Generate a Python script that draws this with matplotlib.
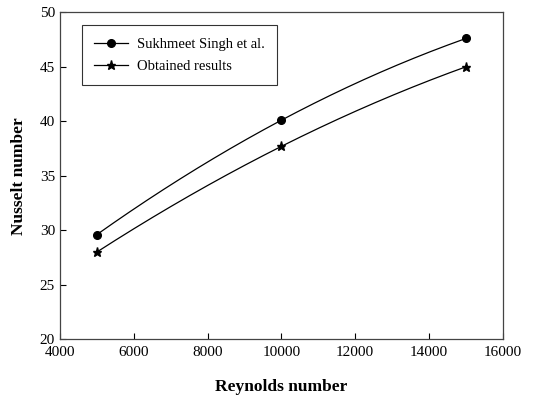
import numpy as np
import matplotlib
matplotlib.use('Agg')
import matplotlib.pyplot as plt

reynolds = [5000, 10000, 15000]
nu_singh = [29.6, 40.1, 47.6]
nu_obtained = [28.0, 37.7, 45.0]

plt.rcParams['font.family'] = ['Liberation Serif', 'DejaVu Serif']

fig = plt.figure(figsize=(5.49, 3.99), dpi=100)
ax = fig.add_axes([0.109, 0.1496, 0.807, 0.8196])

# smooth curve through the three points (quadratic), markers at the data
x_fine = np.linspace(reynolds[0], reynolds[-1], 200)


def smooth(y):
    return np.polyval(np.polyfit(reynolds, y, 2), x_fine)


ax.plot(x_fine, smooth(nu_singh), color='black', lw=0.9)
ax.plot(x_fine, smooth(nu_obtained), color='black', lw=0.9)
ax.plot(reynolds, nu_singh, 'o', color='black', ms=5.5)
ax.plot(reynolds, nu_obtained, '*', color='black', ms=6.5)

# legend proxies
ax.plot([], [], '-o', color='black', lw=0.9, ms=5.5, label='Sukhmeet Singh et al.')
ax.plot([], [], '-*', color='black', lw=0.9, ms=6.5, label='Obtained results')
handles, labels = ax.get_legend_handles_labels()
leg = ax.legend(handles[-2:], labels[-2:], loc='upper left',
                bbox_to_anchor=(0.05, 0.961), borderaxespad=0, fontsize=10.5,
                frameon=True, fancybox=False, edgecolor='black',
                handlelength=2.3, borderpad=0.85, labelspacing=0.6,
                handletextpad=0.6)
leg.get_frame().set_linewidth(0.8)

ax.set_xlim(4000, 16000)
ax.set_ylim(20, 50)
ax.set_xticks(np.arange(4000, 16001, 2000))
ax.set_yticks(np.arange(20, 51, 5))
ax.tick_params(direction='in', length=4, width=0.8, labelsize=11,
               top=False, right=False)
ax.tick_params(axis='x', pad=5)
for s in ax.spines.values():
    s.set_linewidth(0.9)
    s.set_color('#444444')

ax.set_xlabel('Reynolds number', fontsize=12.5, fontweight='bold', labelpad=14)
ax.set_ylabel('Nusselt number', fontsize=12.5, fontweight='bold', labelpad=9)

plt.savefig('out.png', dpi=100)
